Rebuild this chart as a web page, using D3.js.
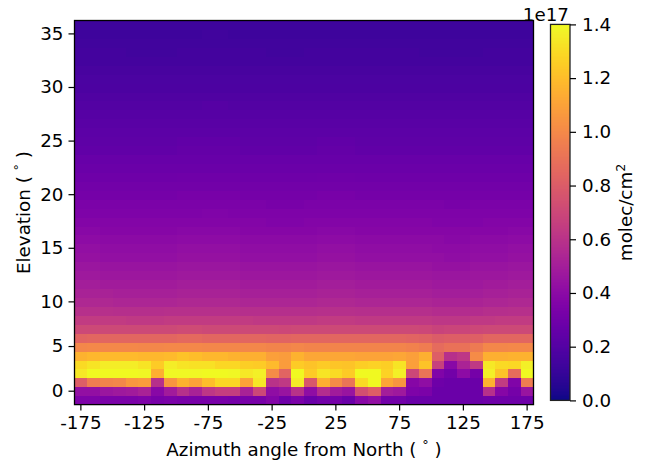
<!DOCTYPE html>
<html><head><meta charset="utf-8">
<script src="https://cdn.jsdelivr.net/npm/d3@7"></script>
<style>
html,body{margin:0;padding:0;background:#fff}
svg{display:block}
text{font-family:"DejaVu Sans",sans-serif;fill:#000}
</style></head><body><div id="chart"></div>
<script>
const azimuths=[-175,-165,-155,-145,-135,-125,-115,-105,-95,-85,-75,-65,-55,-45,-35,-25,-15,-5,5,15,25,35,45,55,65,75,85,95,105,115,125,135,145,155,165,175];
const elevations=[-1,0,1,2,3,4,5,6,7,8,9,10,10.83,11.67,12.5,13.33,14.17,15,15.83,16.67,17.5,18.33,19.17,20,20.83,21.67,22.5,23.33,24.17,25,25.83,26.67,27.5,28.33,29.17,30,30.83,31.67,32.5,33.33,34.17,35,35.83];
const xTicks=[-175,-125,-75,-25,25,75,125,175];
const yTicks=[0,5,10,15,20,25,30,35];
const cbarTicks=[0,0.2,0.4,0.6,0.8,1.0,1.2,1.4];
// column densities per elevation row, units of 1e15 molec/cm2
const row00=[35,35,34,34,34,35,33,34,33,33,33,33,32,33,33,37,30,34,28,31,32,28,39,43,31,31,28,28,28,28,28,28,29,29,29,29];
const row01=[43,43,46,48,49,52,39,49,59,52,62,66,66,52,70,42,45,60,42,57,49,45,74,81,50,48,35,34,28,28,28,28,59,38,32,45];
const row02=[81,95,98,99,106,108,59,105,116,111,120,129,129,111,134,60,63,136,78,115,101,91,130,140,112,105,38,42,29,28,28,28,116,64,36,95];
const row03=[134,140,140,140,140,139,115,139,139,139,140,140,139,134,137,101,84,140,125,133,130,125,140,140,127,137,70,91,36,31,41,32,137,122,88,140];
const row04=[130,133,136,136,136,133,125,136,133,132,132,129,129,126,125,119,108,125,122,125,123,122,126,127,126,133,109,122,67,39,53,63,134,130,129,137];
const row05=[116,118,119,119,119,118,118,119,122,120,118,118,116,115,115,109,108,116,112,112,112,112,111,111,111,112,109,115,81,59,62,101,115,115,116,116];
const row06=[99,100,100,100,100,99,99,100,100,100,99,99,99,99,99,98,98,99,98,98,98,98,98,98,98,98,97,95,87,90,90,94,99,99,100,100];
const row07=[84,85,85,85,85,85,85,85,86,86,85,85,85,85,85,84,84,85,85,85,85,85,85,85,85,85,84,83,80,81,81,82,85,85,85,85];
const row08=[71,71,71,71,71,71,71,71,72,72,71,71,71,71,71,71,70,71,71,71,71,71,71,71,71,71,71,70,68,69,69,70,71,71,71,71];
const row09=[64,64,64,64,63,63,63,64,64,64,64,64,64,64,63,63,63,63,63,64,64,64,63,63,63,63,63,63,62,62,62,63,63,64,64,64];
const row10=[59,59,59,58,58,58,58,59,59,59,59,59,59,58,58,58,58,58,58,59,59,59,58,58,58,58,58,58,57,57,57,57,58,58,59,59];
const row11=[55,55,55,54,54,54,54,54,55,55,55,55,55,54,54,54,54,54,54,55,55,55,54,54,54,54,54,54,53,53,53,53,54,54,55,55];
const row12=[52,52,52,51,51,51,51,51,52,52,52,52,52,51,51,51,51,51,51,52,52,52,51,51,51,51,51,51,50,50,50,50,51,51,52,52];
const row13=[50,50,49,49,49,49,49,49,50,50,50,50,50,49,49,49,49,49,49,50,50,50,49,49,49,49,49,49,48,48,48,48,49,49,50,50];
const row14=[48,48,47,47,47,47,47,47,48,48,48,48,48,47,47,47,47,47,47,48,48,48,47,47,47,47,47,47,46,46,46,47,47,47,48,48];
const row15=[46,46,45,45,45,45,45,45,46,46,46,46,46,45,45,45,45,45,45,46,46,46,45,45,45,45,45,45,44,44,44,45,45,45,46,46];
const row16=[44,44,43,43,43,43,43,43,44,44,44,44,44,43,43,43,43,43,43,44,44,44,43,43,43,43,43,43,43,42,42,43,43,43,44,44];
const row17=[43,43,42,42,42,42,42,42,43,43,43,43,43,42,42,42,42,42,42,43,43,43,42,42,42,42,42,42,41,41,41,42,42,42,43,43];
const row18=[41,41,40,40,40,40,40,40,41,41,41,41,41,40,40,40,40,40,40,41,41,41,40,40,40,40,40,40,40,39,39,40,40,40,41,41];
const row19=[39,39,38,38,38,38,38,38,39,39,39,39,39,38,38,38,38,38,38,39,39,39,38,38,38,38,38,38,38,38,38,38,38,38,39,39];
const row20=[37,37,37,37,37,37,37,37,37,37,37,37,37,37,37,36,36,36,37,37,37,37,37,37,37,37,37,37,36,36,36,36,37,37,37,37];
const row21=[35,35,35,35,35,35,35,35,35,35,36,36,35,35,35,35,35,35,35,35,35,35,35,35,35,35,35,35,35,35,35,35,35,35,35,35];
const row22=[34,34,34,34,34,34,34,34,34,34,34,34,34,34,34,33,33,33,34,34,34,34,34,34,34,34,34,34,34,33,33,34,34,34,34,34];
const row23=[32,32,32,32,32,32,32,32,33,33,33,33,33,32,32,32,32,32,32,33,33,33,32,32,32,32,32,32,32,32,32,32,32,32,32,32];
const row24=[31,31,31,31,31,31,31,31,31,31,31,31,31,31,31,31,31,31,31,31,31,31,31,31,31,31,31,31,31,31,31,31,31,31,31,31];
const row25=[29,29,29,29,29,29,29,29,30,30,30,30,30,29,29,29,29,29,29,30,30,30,29,29,29,29,29,29,29,29,29,29,29,29,29,29];
const row26=[28,28,28,28,28,28,28,28,28,28,28,28,28,28,28,28,28,28,28,28,28,28,28,28,28,28,28,28,28,28,28,28,28,28,28,28];
const row27=[27,27,27,27,27,27,27,27,27,27,27,27,27,27,27,27,27,27,27,27,27,27,27,27,27,27,27,27,27,27,27,27,27,27,27,27];
const row28=[25,25,25,25,25,25,25,25,26,26,26,26,26,25,25,25,25,25,25,26,26,26,25,25,25,25,25,25,25,25,25,25,25,25,25,25];
const row29=[24,24,24,24,24,24,24,24,25,25,25,25,25,24,24,24,24,24,24,25,25,25,24,24,24,24,24,24,24,24,24,24,24,24,24,24];
const row30=[23,23,23,23,23,23,23,23,23,23,23,23,23,23,23,23,23,23,23,23,23,23,23,23,23,23,23,23,23,23,23,23,23,23,23,23];
const row31=[22,22,22,22,22,22,22,22,22,22,22,22,22,22,22,22,22,22,22,22,22,22,22,22,22,22,22,22,22,22,22,22,22,22,22,22];
const row32=[21,21,21,21,21,21,21,21,21,21,21,21,21,21,21,21,21,21,21,21,21,21,21,21,21,21,21,21,21,21,21,21,21,21,21,21];
const row33=[20,20,20,20,20,20,20,20,20,20,21,21,20,20,20,20,20,20,20,20,20,20,20,20,20,20,20,20,20,20,20,20,20,20,20,20];
const row34=[19,19,19,19,19,19,19,19,19,19,19,19,19,19,19,19,19,19,19,19,19,19,19,19,19,19,19,19,19,19,19,19,19,19,19,19];
const row35=[18,18,18,18,18,18,18,18,18,18,18,18,18,18,18,18,18,18,18,18,18,18,18,18,18,18,18,18,18,18,18,18,18,18,18,18];
const row36=[17,17,17,17,17,17,17,17,17,17,17,17,17,17,17,17,17,17,17,17,17,17,17,17,17,17,17,17,17,17,17,17,17,17,17,17];
const row37=[16,16,16,16,16,16,16,16,16,16,16,16,16,16,16,16,16,16,16,16,16,16,16,16,16,16,16,16,16,16,16,16,16,16,16,16];
const row38=[15,15,15,15,15,15,15,15,15,15,15,15,15,15,15,15,15,15,15,15,15,15,15,15,15,15,15,15,15,15,15,15,15,15,15,15];
const row39=[15,15,15,15,14,14,14,14,15,15,15,15,15,15,15,14,14,14,15,15,15,15,15,15,15,15,15,14,14,14,14,14,15,15,15,15];
const row40=[14,14,14,14,14,14,14,14,14,14,14,14,14,14,14,14,14,14,14,14,14,14,14,14,14,14,14,14,14,14,14,14,14,14,14,14];
const row41=[13,13,13,13,13,13,13,13,13,13,14,14,13,13,13,13,13,13,13,13,13,13,13,13,13,13,13,13,13,13,13,13,13,13,13,13];
const row42=[13,13,13,13,13,13,13,13,13,13,13,13,13,13,13,13,13,13,13,13,13,13,13,13,13,13,13,13,13,13,13,13,13,13,13,13];
const rows=[row00,row01,row02,row03,row04,row05,row06,row07,row08,row09,row10,row11,row12,row13,row14,row15,row16,row17,row18,row19,row20,row21,row22,row23,row24,row25,row26,row27,row28,row29,row30,row31,row32,row33,row34,row35,row36,row37,row38,row39,row40,row41,row42];

const W=649,H=462,FS=18.3;
const P={l:74.5,r:533.5,t:20.5,b:404.6};
const CB={l:550.5,r:570,t:24.4,b:400.4};
const svg=d3.select("#chart").append("svg").attr("width",W).attr("height",H);

const x=d3.scaleBand().domain(azimuths).range([P.l,P.r]).paddingInner(0).paddingOuter(0);
const y=d3.scaleBand().domain(elevations).range([P.b,P.t]).paddingInner(0).paddingOuter(0);
const color=d3.scaleSequential(d3.interpolatePlasma).domain([0,140]);

const cells=rows.flatMap((r,i)=>r.map((v,j)=>({az:azimuths[j],el:elevations[i],v})));
svg.append("g").attr("shape-rendering","crispEdges").selectAll("rect").data(cells).join("rect")
 .attr("x",d=>x(d.az)).attr("y",d=>y(d.el)).attr("width",x.bandwidth()+0.6).attr("height",y.bandwidth()+0.6)
 .attr("fill",d=>color(d.v));

function styleAxis(g){
 g.select(".domain").remove();
 g.selectAll(".tick line").attr("stroke","#000").attr("stroke-width",1.2);
 g.selectAll(".tick text").attr("font-size",FS).attr("font-family","DejaVu Sans").attr("fill","#000");
}
const xAxis=d3.axisBottom(x).tickValues(xTicks).tickFormat(d=>String(d)).tickSize(6).tickPadding(5);
svg.append("g").attr("transform",`translate(0,${P.b})`).call(xAxis).call(styleAxis);
const yAxis=d3.axisLeft(y).tickValues(yTicks).tickFormat(d=>String(d)).tickSize(6).tickPadding(5);
svg.append("g").attr("transform",`translate(${P.l},0)`).call(yAxis).call(styleAxis);

svg.append("rect").attr("x",P.l).attr("y",P.t).attr("width",P.r-P.l).attr("height",P.b-P.t)
 .attr("fill","none").attr("stroke","#000").attr("stroke-width",1.3);

// axis titles
function deg(t,label){
 t.append("tspan").text(label+" ( ");
 t.append("tspan").attr("font-size",FS*0.7).attr("dy",-7).text("\u00b0");
 t.append("tspan").attr("dy",7).text(" )");
}
svg.append("text").attr("x",(P.l+P.r)/2).attr("y",456).attr("text-anchor","middle").attr("font-size",FS).call(deg,"Azimuth angle from North");
svg.append("text").attr("transform",`translate(30,${(P.t+P.b)/2}) rotate(-90)`).attr("text-anchor","middle").attr("font-size",FS).call(deg,"Elevation");

// colorbar
const cbY=d3.scaleLinear().domain([0,1.4]).range([CB.b,CB.t]);
const levels=d3.range(0,256).map(i=>i/255*1.4);
const cbH=(CB.b-CB.t)/256+0.5;
svg.append("g").attr("shape-rendering","crispEdges").selectAll("rect").data(levels).join("rect")
 .attr("x",CB.l).attr("width",CB.r-CB.l)
 .attr("y",(d,i)=>CB.b-(i+1)*(CB.b-CB.t)/256).attr("height",cbH)
 .attr("fill",d=>d3.interpolatePlasma(d/1.4));
svg.append("rect").attr("x",CB.l).attr("y",CB.t).attr("width",CB.r-CB.l).attr("height",CB.b-CB.t)
 .attr("fill","none").attr("stroke","#222").attr("stroke-width",1.3);
const cbAxis=d3.axisRight(cbY).tickValues(cbarTicks).tickFormat(d3.format(".1f")).tickSize(6).tickPadding(6);
svg.append("g").attr("transform",`translate(${CB.r},0)`).call(cbAxis).call(styleAxis);
svg.append("text").attr("x",569).attr("y",20.5).attr("text-anchor","end").attr("font-size",FS).text("1e17");
const u=svg.append("text").attr("transform",`translate(632,${(CB.t+CB.b)/2}) rotate(-90)`).attr("text-anchor","middle").attr("font-size",FS);
u.append("tspan").text("molec/cm");
u.append("tspan").attr("font-size",FS*0.7).attr("dy",-7).text("2");
</script></body></html>
